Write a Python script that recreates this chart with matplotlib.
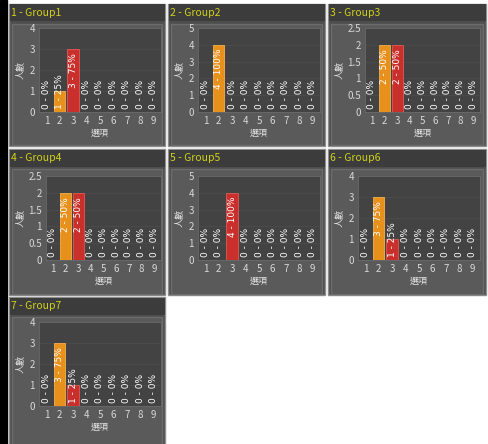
import matplotlib
matplotlib.use('Agg')
import matplotlib.pyplot as plt
from matplotlib.patches import Rectangle

plt.rcParams['font.family'] = ['Noto Sans CJK TC', 'DejaVu Sans']

options = [1, 2, 3, 4, 5, 6, 7, 8, 9]
group_names = ['Group1', 'Group2', 'Group3', 'Group4', 'Group5', 'Group6', 'Group7']
group1 = [0, 1, 3, 0, 0, 0, 0, 0, 0]
group2 = [0, 4, 0, 0, 0, 0, 0, 0, 0]
group3 = [0, 2, 2, 0, 0, 0, 0, 0, 0]
group4 = [0, 2, 2, 0, 0, 0, 0, 0, 0]
group5 = [0, 0, 4, 0, 0, 0, 0, 0, 0]
group6 = [0, 3, 1, 0, 0, 0, 0, 0, 0]
group7 = [0, 3, 1, 0, 0, 0, 0, 0, 0]
counts = [group1, group2, group3, group4, group5, group6, group7]
y_max = [4, 5, 2.5, 2.5, 5, 4, 4]
y_step = [1, 1, 0.5, 0.5, 1, 1, 1]

bar_colors = ['#e8901c', '#e8901c', '#c9302c', '#c9302c', '#c9302c',
              '#c9302c', '#c9302c', '#c9302c', '#c9302c']
bar_edges = ['#f4b050', '#f4b050', '#e05a55', '#e05a55', '#e05a55',
             '#e05a55', '#e05a55', '#e05a55', '#e05a55']

W, H = 488, 444
fig = plt.figure(figsize=(W / 100, H / 100), dpi=100)
fig.patch.set_facecolor('white')

# background layer in pixel coordinates
bg = fig.add_axes([0, 0, 1, 1])
bg.set_xlim(0, W)
bg.set_ylim(H, 0)
bg.axis('off')
bg.add_patch(Rectangle((0, 0), 7, H, color='black'))

col_x = [9, 168, 328]
col_w = [156, 157, 158]
row_top = [4, 149, 297]
row_bot = [146, 295, 446]
plot_top = [28, 176, 322]
plot_h = 84

def px_axes(left, top, width, height):
    return fig.add_axes([left / W, 1 - (top + height) / H, width / W, height / H])

for i, name in enumerate(group_names):
    r, c = divmod(i, 3)
    x0, w = col_x[c], col_w[c]
    t, b = row_top[r], row_bot[r]
    # panel body
    bg.add_patch(Rectangle((x0, t), w, b - t, facecolor='#4e4e4e',
                           edgecolor='#8e8e8e', lw=1))
    # title bar
    bg.add_patch(Rectangle((x0 + 0.5, t + 0.5), w - 1, 17, facecolor='#3c3c3c', lw=0))
    bg.text(x0 + 2, t + 9, f'{i + 1} - {name}', color='#d2d21a', fontsize=7.5,
            va='center', ha='left')
    # inner frame
    bg.add_patch(Rectangle((x0 + 3, t + 20), w - 6, b - t - 21, facecolor='#5a5a5a',
                           edgecolor='#6c6c6c', lw=1))

    left = x0 + (37 if y_step[i] < 1 else 30)
    right = x0 + 152
    top = plot_top[r]
    ax = px_axes(left, top, right - left, plot_h)
    ax.set_facecolor('#434343')
    for s in ax.spines.values():
        s.set_color('#6a6a6a')
        s.set_linewidth(0.6)

    vals = counts[i]
    total = sum(vals)
    ax.bar(options, vals, width=0.85, color=bar_colors, edgecolor=bar_edges, linewidth=0.6,
           zorder=3)
    ax.set_xlim(0.45, 9.55)
    ax.set_ylim(0, y_max[i])
    ticks = [k * y_step[i] for k in range(int(round(y_max[i] / y_step[i])) + 1)]
    ax.set_yticks(ticks)
    ax.set_yticklabels([f'{v:g}' for v in ticks])
    ax.set_xticks(options)
    ax.grid(axis='y', color='#4c4c4c', lw=0.6, zorder=0)
    ax.tick_params(colors='#d8d8d8', labelsize=7, length=0, pad=3)

    for x, v in zip(options, vals):
        pct = round(v / total * 100) if total else 0
        label = f'{v} - {pct}%'
        if v / y_max[i] > 0.5:
            ax.annotate(label, (x, v), xytext=(0, -3), textcoords='offset points',
                        rotation=90, ha='center', va='top', color='white',
                        fontsize=6.5, family='DejaVu Sans', zorder=4)
        else:
            ax.annotate(label, (x, 0), xytext=(0, 2), textcoords='offset points',
                        rotation=90, ha='center', va='bottom', color='white',
                        fontsize=6.5, family='DejaVu Sans', zorder=4)

    bg.text((left + right) / 2, top + plot_h + 21, '選項', color='#e0e0e0',
            fontsize=6.5, ha='center', va='center')
    bg.text(x0 + 12, top + plot_h / 2, '人數', color='#e0e0e0', fontsize=6.5,
            rotation=90, ha='center', va='center')

fig.savefig('out.png', dpi=100, facecolor='white')
